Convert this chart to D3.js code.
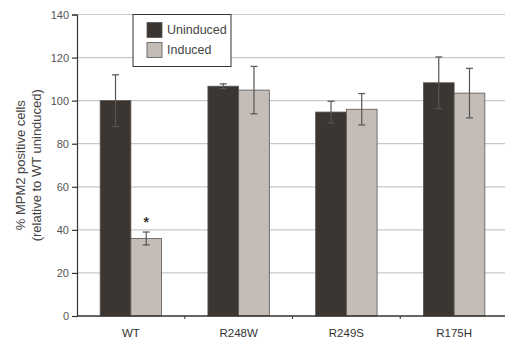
<!DOCTYPE html>
<html>
<head>
<meta charset="utf-8">
<script src="https://cdn.jsdelivr.net/npm/d3@7"></script>
<style>
  body { margin: 0; background: #fff; }
  svg text { font-family: "Liberation Sans", Arial, sans-serif; }
</style>
</head>
<body>
<svg id="chart" width="509" height="343"></svg>
<script>
const categories = ["WT", "R248W", "R249S", "R175H"];
const series = ["Uninduced", "Induced"];
const uninduced = [100, 106.7, 94.7, 108.3];
const uninducedErr = [12, 1.1, 5, 12];
const induced = [36, 104.9, 96, 103.5];
const inducedErr = [3, 11, 7.3, 11.5];
const yTicks = [0, 20, 40, 60, 80, 100, 120, 140];

const colors = { Uninduced: "#3b3631", Induced: "#c3bcb7" };

const margin = { top: 14.5, right: 1, bottom: 27, left: 77 };
const width = 509 - margin.left - margin.right;
const height = 343 - margin.top - margin.bottom;

const svg = d3.select("#chart");
const g = svg.append("g")
  .attr("transform", "translate(" + margin.left + "," + margin.top + ")");

const x = d3.scaleBand().domain(categories).range([0, width]).paddingInner(0).paddingOuter(0);
const xs = d3.scaleBand().domain(series).range([x.bandwidth() * 0.215, x.bandwidth() * 0.785]);
const y = d3.scaleLinear().domain([0, 140]).range([height, 0]);

// grid
g.selectAll("line.grid")
  .data(yTicks.slice(1))
  .enter().append("line")
  .attr("class", "grid")
  .attr("x1", 0).attr("x2", width - 3)
  .attr("y1", d => y(d)).attr("y2", d => y(d))
  .attr("stroke", "#c8c8c8").attr("stroke-width", 1.2);

// data rows
const rows = [];
categories.forEach((c, i) => {
  rows.push({ cat: c, s: "Uninduced", v: uninduced[i], e: uninducedErr[i] });
  rows.push({ cat: c, s: "Induced", v: induced[i], e: inducedErr[i] });
});

g.selectAll("rect.bar")
  .data(rows)
  .enter().append("rect")
  .attr("class", "bar")
  .attr("x", d => x(d.cat) + xs(d.s))
  .attr("y", d => y(d.v))
  .attr("width", xs.bandwidth())
  .attr("height", d => y(0) - y(d.v))
  .attr("fill", d => colors[d.s])
  .attr("stroke", "#5a5550")
  .attr("stroke-width", 0.8);

// error bars
const eb = g.selectAll("g.err")
  .data(rows)
  .enter().append("g")
  .attr("class", "err")
  .attr("transform", d => "translate(" + (x(d.cat) + xs(d.s) + xs.bandwidth() / 2) + ",0)");
eb.append("line")
  .attr("y1", d => y(d.v + d.e)).attr("y2", d => y(d.v - d.e))
  .attr("stroke", "#555").attr("stroke-width", 1.2);
eb.selectAll("line.cap")
  .data(d => [d.v + d.e, d.v - d.e])
  .enter().append("line")
  .attr("class", "cap")
  .attr("x1", -3.5).attr("x2", 3.5)
  .attr("y1", d => y(d)).attr("y2", d => y(d))
  .attr("stroke", "#555").attr("stroke-width", 1.2);

// significance star
g.append("text")
  .attr("x", x("WT") + xs("Induced") + xs.bandwidth() / 2)
  .attr("y", y(induced[0] + inducedErr[0]) - 5)
  .attr("text-anchor", "middle")
  .attr("font-size", 14)
  .attr("font-weight", "bold")
  .attr("fill", "#333")
  .text("*");

// y axis
const yAxis = g.append("g")
  .call(d3.axisLeft(y).tickValues(yTicks).tickSize(5).tickPadding(3));
yAxis.select(".domain").attr("stroke", "#333").attr("stroke-width", 1.2);
yAxis.selectAll(".tick line").attr("stroke", "#333").attr("stroke-width", 1.2);
yAxis.selectAll(".tick text").attr("font-size", 11).attr("fill", "#555")
  .attr("font-family", "Liberation Sans, Arial, sans-serif");

// x axis
const xAxisG = g.append("g").attr("transform", "translate(0," + height + ")");
xAxisG.append("line")
  .attr("x1", 0).attr("x2", width - 3)
  .attr("stroke", "#333").attr("stroke-width", 1.4);
xAxisG.selectAll("line.xt")
  .data(categories.slice(1))
  .enter().append("line")
  .attr("class", "xt")
  .attr("x1", d => x(d)).attr("x2", d => x(d))
  .attr("y1", 0).attr("y2", 3)
  .attr("stroke", "#333").attr("stroke-width", 1);
xAxisG.selectAll("text")
  .data(categories)
  .enter().append("text")
  .attr("x", d => x(d) + x.bandwidth() / 2)
  .attr("y", 20.5)
  .attr("text-anchor", "middle")
  .attr("font-size", 11.5)
  .attr("fill", "#333")
  .text(d => d);

// y label
const yl = svg.append("text")
  .attr("transform", "translate(0," + (margin.top + y(70)) + ") rotate(-90)")
  .attr("text-anchor", "middle")
  .attr("font-size", 13)
  .attr("fill", "#444");
yl.append("tspan").attr("x", 0).attr("y", 24.5).text("% MPM2 positive cells");
yl.append("tspan").attr("x", 0).attr("y", 40.5).text("(relative to WT uninduced)");

// legend
const lg = svg.append("g").attr("transform", "translate(133,14.5)");
lg.append("rect")
  .attr("width", 98).attr("height", 52)
  .attr("fill", "#fff").attr("stroke", "#333").attr("stroke-width", 1);
series.forEach((s, i) => {
  lg.append("rect")
    .attr("x", 14).attr("y", 8 + i * 20)
    .attr("width", 15).attr("height", 15)
    .attr("fill", colors[s]).attr("stroke", "#5a5550").attr("stroke-width", 0.8);
  lg.append("text")
    .attr("x", 34).attr("y", 19.5 + i * 20)
    .attr("font-size", 12.5).attr("fill", "#444")
    .text(s);
});
</script>
</body>
</html>
